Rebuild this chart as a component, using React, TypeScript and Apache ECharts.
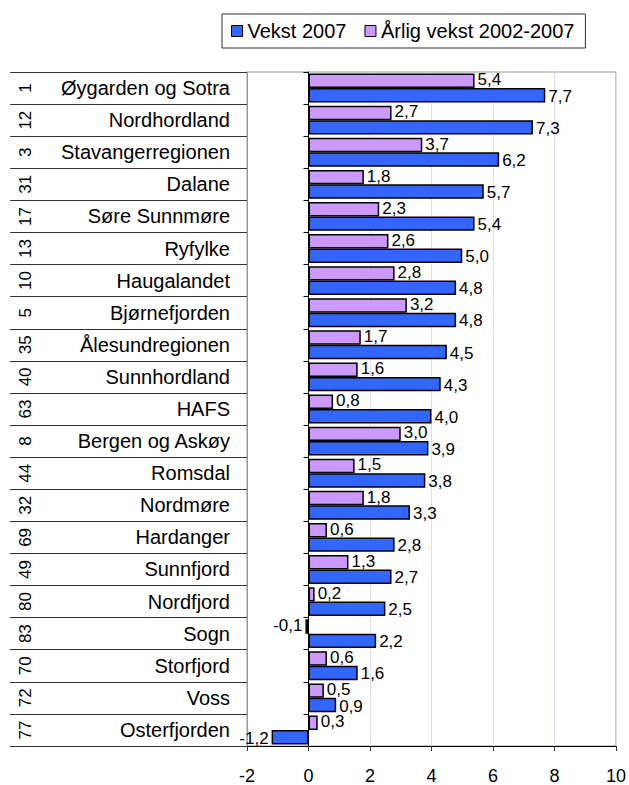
import React, { useEffect, useRef } from "react";
import * as echarts from "echarts";

const regionNumbers = ["1", "12", "3", "31", "17", "13", "10", "5", "35", "40", "63", "8", "44", "32", "69", "49", "80", "83", "70", "72", "77"];
const regionNames = [
  "Øygarden og Sotra", "Nordhordland", "Stavangerregionen", "Dalane", "Søre Sunnmøre",
  "Ryfylke", "Haugalandet", "Bjørnefjorden", "Ålesundregionen", "Sunnhordland", "HAFS",
  "Bergen og Askøy", "Romsdal", "Nordmøre", "Hardanger", "Sunnfjord", "Nordfjord", "Sogn",
  "Storfjord", "Voss", "Osterfjorden",
];
const vekst2007 = [7.7, 7.3, 6.2, 5.7, 5.4, 5.0, 4.8, 4.8, 4.5, 4.3, 4.0, 3.9, 3.8, 3.3, 2.8, 2.7, 2.5, 2.2, 1.6, 0.9, -1.2];
const arligVekst = [5.4, 2.7, 3.7, 1.8, 2.3, 2.6, 2.8, 3.2, 1.7, 1.6, 0.8, 3.0, 1.5, 1.8, 0.6, 1.3, 0.2, -0.1, 0.6, 0.5, 0.3];
const xTicks = { min: -2, max: 10, interval: 2 };
const seriesNames = ["Vekst 2007", "Årlig vekst 2002-2007"];

const FONT = "'Liberation Sans', Arial, sans-serif";

const fmt = (v: number) => v.toFixed(1).replace(".", ",");

const toItems = (vals: number[]) =>
  vals.map((v) => ({
    value: v,
    label: { position: v < 0 ? "left" : "right" },
  }));

export default function App() {
  const ref = useRef<HTMLDivElement>(null);
  useEffect(() => {
    if (!ref.current) return;
    const chart = echarts.init(ref.current, undefined, { renderer: "svg" });
    const labelCfg = (dy: number) => ({
      show: true,
      fontSize: 17,
      color: "#000",
      distance: 3,
      offset: [0, dy],
      fontFamily: FONT,
      formatter: (p: any) => fmt(p.value),
    });
    chart.setOption({
      animation: false,
      textStyle: { fontFamily: FONT },
      legend: {
        data: seriesNames,
        left: 222,
        top: 14,
        orient: "horizontal",
        borderColor: "#333",
        borderWidth: 1,
        padding: [7, 11, 7, 9],
        itemWidth: 11,
        itemHeight: 11,
        itemGap: 18,
        icon: "rect",
        itemStyle: { borderColor: "#000", borderWidth: 1 },
        textStyle: { fontSize: 20, color: "#000", fontFamily: FONT },
      },
      grid: {
        left: 247,
        right: 12,
        top: 72,
        bottom: 39,
        show: true,
        borderColor: "#999",
        borderWidth: 1,
        containLabel: false,
      },
      xAxis: {
        type: "value",
        min: xTicks.min,
        max: xTicks.max,
        interval: xTicks.interval,
        axisLine: { show: true, onZero: false, lineStyle: { color: "#000", width: 1 } },
        axisTick: { show: true, length: 5, lineStyle: { color: "#333" } },
        axisLabel: { fontSize: 18, color: "#000", margin: 21, fontFamily: FONT },
        splitLine: { show: true, lineStyle: { color: "#ddddff", width: 1 } },
      },
      yAxis: [
        {
          type: "category",
          data: regionNames,
          inverse: true,
          position: "left",
          axisLine: { show: true, onZero: false, lineStyle: { color: "#999" } },
          axisTick: { show: true, length: 237, lineStyle: { color: "#333" } },
          axisLabel: { fontSize: 20, color: "#000", margin: 17, fontFamily: FONT },
          splitLine: { show: false },
        },
        {
          type: "category",
          data: regionNumbers,
          inverse: true,
          position: "left",
          axisLine: { show: false, onZero: false },
          axisTick: { show: false },
          axisLabel: { fontSize: 17, color: "#000", margin: 213, rotate: 90, fontFamily: FONT },
          splitLine: { show: false },
        },
        {
          type: "category",
          data: regionNames,
          inverse: true,
          position: "left",
          axisLine: { show: true, onZero: true, onZeroAxisIndex: 0, lineStyle: { color: "#000" } },
          axisTick: { show: true, length: 5, lineStyle: { color: "#000" } },
          axisLabel: { show: false },
          splitLine: { show: false },
        },
      ],
      series: [
        {
          name: seriesNames[1],
          type: "bar",
          yAxisIndex: 0,
          data: toItems(arligVekst),
          barGap: "0%",
          barCategoryGap: "10%",
          itemStyle: { color: "#cc99ff", borderColor: "#000", borderWidth: 1.5 },
          label: labelCfg(-1),
        },
        {
          name: seriesNames[0],
          type: "bar",
          yAxisIndex: 0,
          data: toItems(vekst2007),
          barGap: "0%",
          barCategoryGap: "10%",
          itemStyle: { color: "#3366ff", borderColor: "#000", borderWidth: 1.5 },
          label: labelCfg(1),
        },
      ],
    });
    return () => chart.dispose();
  }, []);
  return (
    <div
      ref={ref}
      style={{ position: "fixed", left: 0, top: 0, width: 629, height: 785, background: "#fff" }}
    />
  );
}
